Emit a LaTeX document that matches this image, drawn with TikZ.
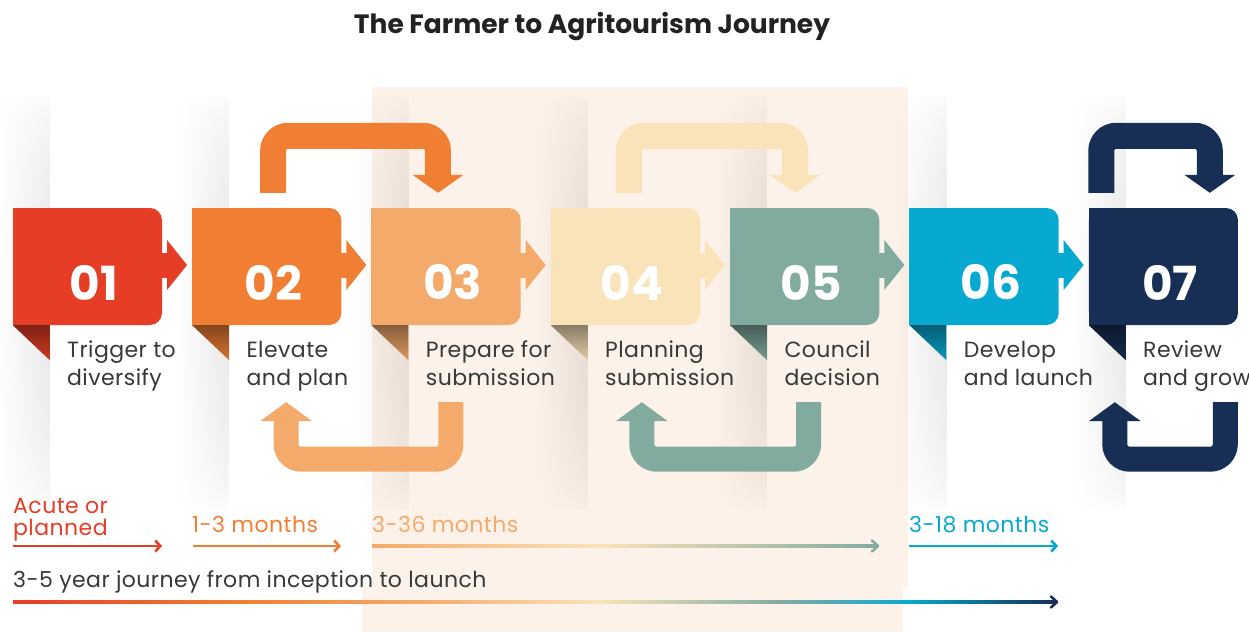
\documentclass[tikz,border=0pt]{standalone}
\usepackage{fontspec}
\setmainfont{Poppins}
\newfontfamily\labfont{Poppins}[LetterSpace=2]
\usetikzlibrary{calc,arrows.meta,fadings}
\definecolor{cA}{HTML}{E63E26}
\definecolor{cB}{HTML}{F07F33}
\definecolor{cC}{HTML}{F4AA6A}
\definecolor{cD}{HTML}{FAE3B9}
\definecolor{cE}{HTML}{82ABA0}
\definecolor{cF}{HTML}{08A9D1}
\definecolor{cG}{HTML}{172F55}
\definecolor{band}{HTML}{FCF2E9}
\definecolor{txt}{HTML}{383838}
\definecolor{ttl}{HTML}{222222}
\pgfdeclarefunctionalshading{stripsh}{\pgfpoint{0bp}{0bp}}{\pgfpoint{100bp}{100bp}}{}{
  25 sub 3.6 mul sin abs sqrt exch 25 sub 50 div abs mul dup dup
}
\pgfdeclarefading{stripfade}{\pgfuseshading{stripsh}}
\begin{document}
\begin{tikzpicture}[x=1pt,y=-1pt,
  boxn/.style={minimum width=149pt, minimum height=117pt, inner sep=0pt, rounded corners=12pt},
  num/.style={text=white, font=\bfseries\fontsize{47}{47}\selectfont, inner sep=0pt},
  lab/.style={text=txt, font=\labfont\fontsize{22}{26}\selectfont, anchor=base west, inner sep=0pt},
  tlab/.style={font=\labfont\fontsize{22}{26}\selectfont, anchor=base west, inner sep=0pt},
  looptop/.style={line width=26pt, rounded corners=15pt, -{Triangle[length=18pt,width=51pt,line width=0pt]}},
  loopbot/.style={line width=25pt, rounded corners=15pt, -{Triangle[length=19pt,width=52pt,line width=0pt]}},
  tline/.style={line width=2.6pt, -{Straight Barb[length=5pt,width=11pt]}},
  chev/.style={line width=2.6pt, line cap=round, line join=round},
]
\useasboundingbox (0,0) rectangle (1249,632);
\fill[white] (0,0) rectangle (1249,632);

% background band
\fill[band] (372,87) rectangle (908,587);
\fill[band] (362,587) rectangle (903,632);

% soft vertical shadows
\foreach \i in {0,...,6}{
  \pgfmathsetmacro\L{13+179.33*\i}
  \fill[black, opacity=0.085, path fading=stripfade, fit fading=true] (\L-16,95) rectangle (\L+37,510);
}

% title
\node[text=ttl, font=\bfseries\fontsize{26.5}{30}\selectfont, inner sep=0pt] (title) at (592,27) {The Farmer to Agritourism Journey};

% boxes
\foreach \i/\c/\n/\la/\lb in {0/cA/01/Trigger to/diversify, 1/cB/02/Elevate/and plan, 2/cC/03/Prepare for/submission, 3/cD/04/Planning/submission, 4/cE/05/Council/decision, 5/cF/06/Develop/and launch, 6/cG/07/Review/and grow}{
  \pgfmathsetmacro\L{13+179.33*\i}
  \ifnum\i<6
    \fill[\c] (\L+148,253) rectangle (\L+155,278);
    \fill[\c] (\L+154,240) -- (\L+174,265) -- (\L+154,290) -- cycle;
  \fi
  \node[boxn, fill=\c] (b\n) at (\L+74.5,266.5) {};
  \fill[\c] (b\n.north west) rectangle ($(b\n.south west)+(75,0)$);
  \shade[top color=\c!55!black, bottom color=\c!90!black] (b\n.south west) -- ($(b\n.south west)+(37,0)$) -- ($(b\n.south west)+(37,35)$) -- cycle;
  \node[num] (n\n) at (\L+81,282.5) {\n};
  \node[lab] (ta\n) at (\L+54,357) {\la};
  \node[lab] (tb\n) at (\L+54,385) {\lb};
}

% loop arrows
\draw[looptop, cB] ($(b02.north west)+(81,-15)$) |- ($(b03.north west)+(66.5,-72)$) -- ($(b03.north west)+(66.5,-15)$);
\draw[loopbot, cC] ($(b03.south west)+(79.5,77)$) |- ($(b02.south west)+(94,134)$) -- ($(b02.south west)+(94,77)$);
\draw[looptop, cD] ($(b04.north west)+(78,-15)$) |- ($(b05.north west)+(65,-72)$) -- ($(b05.north west)+(65,-15)$);
\draw[loopbot, cE] ($(b05.south west)+(78.5,77)$) |- ($(b04.south west)+(91,134)$) -- ($(b04.south west)+(91,77)$);
\draw[looptop, cG] ($(b07.north west)+(12.5,-15)$) |- ($(b07.north west)+(121,-72)$) -- ($(b07.north west)+(121,-15)$);
\draw[loopbot, cG] ($(b07.south west)+(136.5,77)$) |- ($(b07.south west)+(26,134)$) -- ($(b07.south west)+(26,77)$);

% timeline
\node[tlab, text=cA] (acute) at (13,513) {Acute or};
\node[tlab, text=cA] (planned) at (13,535) {planned};
\node[tlab, text=cB] (m13) at (192,532) {1-3 months};
\node[tlab, text=cC] (m336) at (372,532) {3-36 months};
\node[tlab, text=cF] (m318) at (909,532) {3-18 months};
\node[tlab, text=txt] (journey) at (13,587) {3-5 year journey from inception to launch};

\coordinate (r1s) at (13,546);  \coordinate (r1e) at (162,546);
\coordinate (r2s) at (193,546); \coordinate (r2e) at (341,546);
\coordinate (r3s) at (372,546); \coordinate (r3m) at (600,546); \coordinate (r3e) at (878,546);
\coordinate (r4s) at (909,546); \coordinate (r4e) at (1058,546);
\draw[tline, cA] (r1s) -- (r1e);
\draw[tline, cB] (r2s) -- (r2e);
\draw[tline, cF] (r4s) -- (r4e);
\shade[left color=cC, right color=cD] ($(r3s)+(0,-1.3)$) rectangle ($(r3m)+(0.5,1.3)$);
\shade[left color=cD, right color=cE] ($(r3m)+(0,-1.3)$) rectangle ($(r3e)+(-1,1.3)$);
\draw[chev, cE] ($(r3e)+(-6,-5.5)$) -- (r3e) -- ($(r3e)+(-6,5.5)$);

\coordinate (lg) at (1057,602);
\foreach \xa/\ca/\xb/\cb in {13/cA/240/cB, 240/cB/420/cC, 420/cC/600/cD, 600/cD/780/cE, 780/cE/909/cF, 909/cF/1056/cG}
  \shade[left color=\ca, right color=\cb] (\xa,600.7) rectangle (\xb+0.5,603.3);
\draw[chev, cG] ($(lg)+(-6,-5.5)$) -- (lg) -- ($(lg)+(-6,5.5)$);
\end{tikzpicture}
\end{document}
